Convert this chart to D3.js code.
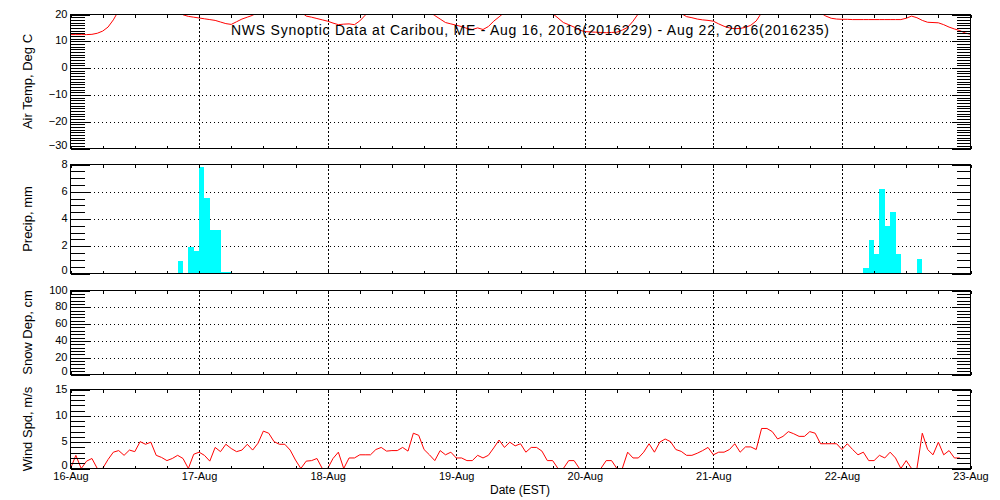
<!DOCTYPE html>
<html>
<head>
<meta charset="utf-8">
<script src="https://cdnjs.cloudflare.com/ajax/libs/d3/7.8.5/d3.min.js"></script>
<style>
body { margin: 0; background: #fff; }
text { font-family: "Liberation Sans", Arial, sans-serif; fill: #000; }
</style>
</head>
<body>
<div id="main"></div>
<script>
var width = 1000;
var height = 500;

// day tick labels, 16-Aug 00 EST .. 23-Aug 00 EST
var dayLabels = ['16-Aug', '17-Aug', '18-Aug', '19-Aug', '20-Aug', '21-Aug', '22-Aug', '23-Aug'];

// hourly air temperature (deg C), hour 0 = 16-Aug 00 EST
var airTemp = [
    12.5, 12.5, 12.5, 12.5, 12.6, 13.0, 13.8, 15.3, 18.0, 21.5, 23.5, 25.0,
    26.0, 27.0, 27.5, 27.5, 27.0, 26.0, 24.5, 23.0, 21.5, 19.9, 19.3, 19.0,
    18.7, 18.4, 18.1, 17.8, 17.2, 16.6, 16.3, 17.3, 18.3, 19.0, 19.7, 21.0,
    23.0, 25.0, 26.0, 27.0, 27.0, 26.0, 24.0, 21.0, 19.4, 19.0, 18.5, 18.0,
    17.5, 16.8, 16.2, 16.4, 16.5, 16.2, 17.6, 19.7, 22.0, 24.0, 25.5, 26.5,
    27.0, 27.0, 26.5, 25.5, 24.5, 23.0, 22.0, 21.0, 19.6, 18.3, 17.0, 16.5,
    16.0, 15.5, 14.8, 14.4, 15.0, 14.4, 15.5, 17.5, 19.1, 20.8, 23.0, 25.0,
    26.0, 27.0, 26.5, 25.0, 23.5, 22.0, 20.3, 18.7, 17.0, 16.2, 15.3, 14.2,
    13.6, 13.5, 13.4, 13.3, 13.2, 13.3, 13.4, 14.2, 15.2, 17.5, 20.3, 22.5,
    24.0, 25.0, 25.0, 24.0, 23.0, 21.5, 20.4, 19.2, 18.8, 18.3, 18.0, 17.8,
    17.5, 16.5, 15.6, 15.0, 14.7, 14.8, 15.2, 16.0, 17.6, 20.6, 23.0, 25.0,
    26.0, 27.0, 27.5, 27.0, 26.0, 25.0, 23.5, 22.0, 20.6, 19.4, 18.6, 18.3,
    18.2, 18.2, 18.1, 18.1, 18.1, 18.1, 18.1, 18.1, 18.1, 18.1, 18.1, 18.1,
    18.6, 19.4, 18.8, 17.8, 17.1, 17.0, 16.9, 16.2, 15.3, 14.6, 14.0, 13.1,
    12.6
];

// hourly precip (mm), only the hours with rain
var precipHours = [20, 22, 23, 24, 25, 26, 27, 28, 29, 148, 149, 150, 151, 152, 153, 154, 158];
var precipValues = [0.9, 1.95, 1.65, 7.85, 5.55, 3.2, 3.2, 0.12, 0.12, 0.4, 2.45, 1.4, 6.2, 3.45, 4.5, 1.4, 1.1];

// snow depth (cm): no reports
var snowDep = [];

// hourly wind speed (m/s)
var windSpd = [
    0.0, 2.5, 0.0, 1.4, 1.9, 0.0, 0.0, 1.7, 3.1, 3.4, 2.5, 3.5,
    3.2, 5.1, 4.6, 5.0, 2.5, 2.1, 1.5, 1.9, 2.5, 1.9, 0.0, 2.7,
    3.1, 2.5, 1.4, 4.0, 3.2, 4.6, 3.8, 3.2, 3.5, 4.6, 3.5, 4.8,
    7.1, 6.7, 5.1, 4.6, 4.6, 3.5, 1.6, 0.0, 1.4, 1.5, 1.9, 0.0,
    0.0, 1.9, 3.1, 0.0, 2.0, 2.0, 2.6, 2.6, 2.6, 3.6, 4.0, 3.3,
    3.4, 3.4, 4.0, 3.3, 6.7, 6.3, 3.6, 2.6, 1.5, 3.4, 2.6, 3.1,
    2.0, 2.0, 1.5, 1.5, 2.5, 2.0, 2.5, 3.9, 5.4, 4.0, 5.0, 4.3,
    4.7, 3.1, 4.0, 4.0, 3.3, 1.5, 1.5, 0.0, 0.0, 1.5, 1.5, 0.0,
    0.0, 0.0, 0.0, 0.0, 1.5, 1.5, 0.0, 0.0, 3.1, 2.0, 2.0, 3.1,
    4.7, 3.1, 5.0, 5.6, 5.1, 3.6, 3.25, 2.5, 2.5, 2.9, 3.4, 4.0,
    2.6, 3.1, 3.1, 3.6, 4.7, 3.1, 4.1, 4.1, 3.6, 7.6, 7.6, 7.0,
    5.6, 6.1, 7.0, 6.6, 6.1, 6.1, 7.0, 6.7, 4.7, 4.7, 4.7, 4.7,
    3.6, 4.7, 3.6, 2.6, 3.1, 1.5, 1.5, 2.5, 2.0, 3.1, 2.0, 0.0,
    1.5, 0.0, 0.0, 6.7, 3.6, 2.6, 5.0, 2.6, 3.4, 2.0, 2.0
];

var panels = [
    {id: 'temp', label: 'Air Temp, Deg C', top: 14.5, bottom: 148.5, domain: [-30, 20], major: 10, minor: 1},
    {id: 'precip', label: 'Precip, mm', top: 164.5, bottom: 273.5, domain: [0, 8], major: 2, minor: 0.5},
    {id: 'snow', label: 'Snow Dep, cm', top: 290.5, bottom: 374.5, domain: [0, 100], major: 20, minor: 4},
    {id: 'wind', label: 'Wind Spd, m/s', top: 389.5, bottom: 468.5, domain: [0, 15], major: 5, minor: 1}
];

var plotLeft = 70.5;
var plotRight = 970.5;

var svg = d3.select('#main').append('svg')
    .attr('width', width)
    .attr('height', height)
    .style('display', 'block');

var xScale = d3.scaleLinear().domain([0, 168]).range([plotLeft, plotRight]);
var dayHours = d3.range(0, 169, 24);
var sixHours = d3.range(0, 169, 6);

function stepValues(domain, step) {
    var n = Math.round((domain[1] - domain[0]) / step);
    return d3.range(n + 1).map(function(i) { return domain[0] + i * step; });
}

function cleanAxis(g) {
    g.select('.domain').remove();
    g.selectAll('line').attr('stroke', '#000').attr('shape-rendering', 'crispEdges');
    g.attr('font-family', null).attr('font-size', null);
}

panels.forEach(function(p) {
    var yScale = d3.scaleLinear().domain(p.domain).range([p.bottom, p.top]);
    var majors = stepValues(p.domain, p.major);
    var minors = stepValues(p.domain, p.minor);
    var chart = svg.append('g').attr('class', 'chart').attr('id', p.id);

    chart.append('clipPath')
        .attr('id', 'clip-' + p.id)
        .append('rect')
        .attr('x', plotLeft)
        .attr('y', p.top)
        .attr('width', plotRight - plotLeft)
        .attr('height', p.bottom - p.top);

    // dotted grid
    chart.selectAll('.hgrid')
        .data(majors.slice(1, -1))
        .enter().append('line')
        .attr('x1', plotLeft + 19)
        .attr('x2', plotRight - 19)
        .attr('y1', function(d) { return Math.round(yScale(d)) + 0.5; })
        .attr('y2', function(d) { return Math.round(yScale(d)) + 0.5; })
        .attr('stroke', '#000')
        .attr('stroke-dasharray', '1,3')
        .attr('shape-rendering', 'crispEdges');

    chart.selectAll('.vgrid')
        .data(dayHours.slice(1, -1))
        .enter().append('line')
        .attr('x1', function(d) { return Math.round(xScale(d)) + 0.5; })
        .attr('x2', function(d) { return Math.round(xScale(d)) + 0.5; })
        .attr('y1', p.top)
        .attr('y2', p.bottom)
        .attr('stroke', '#000')
        .attr('stroke-dasharray', '2,2')
        .attr('shape-rendering', 'crispEdges');

    // data
    var plot = chart.append('g').attr('clip-path', 'url(#clip-' + p.id + ')');
    if (p.id === 'temp') {
        plot.append('path')
            .datum(airTemp)
            .attr('fill', 'none')
            .attr('stroke', '#ff0000')
            .attr('stroke-width', 1)
            .attr('d', d3.line()
                .x(function(d, i) { return xScale(i); })
                .y(function(d) { return yScale(d); }));
    }
    if (p.id === 'precip') {
        plot.selectAll('.bar')
            .data(precipHours)
            .enter().append('rect')
            .attr('class', 'bar')
            .attr('x', function(d) { return xScale(d); })
            .attr('width', function(d) { return xScale(d + 1) - xScale(d); })
            .attr('y', function(d, i) { return yScale(precipValues[i]); })
            .attr('height', function(d, i) { return yScale(0) - yScale(precipValues[i]); })
            .attr('fill', '#00ffff')
            .attr('shape-rendering', 'crispEdges');
    }
    if (p.id === 'snow' && snowDep.length) {
        plot.append('path')
            .datum(snowDep)
            .attr('fill', 'none')
            .attr('stroke', '#ff0000')
            .attr('d', d3.line()
                .x(function(d, i) { return xScale(i); })
                .y(function(d) { return yScale(d); }));
    }
    if (p.id === 'wind') {
        plot.append('path')
            .datum(windSpd)
            .attr('fill', 'none')
            .attr('stroke', '#ff0000')
            .attr('stroke-width', 1)
            .attr('d', d3.line()
                .x(function(d, i) { return xScale(i); })
                .y(function(d) { return yScale(d); }));
    }

    // y ticks, left and right, minor then major
    chart.append('g')
        .attr('transform', `translate(${plotLeft}, 0)`)
        .call(d3.axisRight(yScale).tickValues(minors).tickSize(14).tickFormat(''))
        .call(cleanAxis);
    chart.append('g')
        .attr('transform', `translate(${plotLeft}, 0)`)
        .call(d3.axisRight(yScale).tickValues(majors).tickSize(19).tickFormat(''))
        .call(cleanAxis);
    chart.append('g')
        .attr('transform', `translate(${plotRight}, 0)`)
        .call(d3.axisLeft(yScale).tickValues(minors).tickSize(14).tickFormat(''))
        .call(cleanAxis);
    chart.append('g')
        .attr('transform', `translate(${plotRight}, 0)`)
        .call(d3.axisLeft(yScale).tickValues(majors).tickSize(19).tickFormat(''))
        .call(cleanAxis);

    // y labels, the lowest one sits a little above its tick
    chart.append('g')
        .attr('transform', `translate(${plotLeft}, 0)`)
        .call(d3.axisLeft(yScale).tickValues(majors).tickSize(0).tickPadding(3).tickFormat(d3.format('d')))
        .call(cleanAxis)
        .selectAll('text')
        .style('font-size', '11px')
        .attr('y', function(d, i) { return i === 0 ? -4 : -1; });

    // x ticks top and bottom
    chart.append('g')
        .attr('transform', `translate(0, ${p.bottom})`)
        .call(d3.axisBottom(xScale).tickValues(sixHours).tickSize(-3).tickFormat(''))
        .call(cleanAxis);
    chart.append('g')
        .attr('transform', `translate(0, ${p.top})`)
        .call(d3.axisTop(xScale).tickValues(sixHours).tickSize(-3).tickFormat(''))
        .call(cleanAxis);

    // frame
    chart.append('rect')
        .attr('x', plotLeft)
        .attr('y', p.top)
        .attr('width', plotRight - plotLeft)
        .attr('height', p.bottom - p.top)
        .attr('fill', 'none')
        .attr('stroke', '#000')
        .attr('shape-rendering', 'crispEdges');

    // axis title
    chart.append('text')
        .text(p.label)
        .attr('text-anchor', 'middle')
        .style('font-size', '13px')
        .attr('transform', `translate(32, ${(p.top + p.bottom) / 2}) rotate(-90)`);

    if (p.id === 'wind') {
        chart.append('g')
            .attr('transform', `translate(0, ${p.bottom})`)
            .call(d3.axisBottom(xScale).tickValues(dayHours).tickSize(0).tickPadding(4)
                .tickFormat(function(d, i) { return dayLabels[i]; }))
            .call(cleanAxis)
            .selectAll('text')
            .style('font-size', '11px');
    }
});

svg.append('text')
    .text('NWS Synoptic Data at Caribou, ME - Aug 16, 2016(2016229) - Aug 22, 2016(2016235)')
    .attr('x', 530)
    .attr('y', 35)
    .attr('text-anchor', 'middle')
    .attr('textLength', 598)
    .attr('lengthAdjust', 'spacing')
    .style('font-size', '14px');

svg.append('text')
    .text('Date (EST)')
    .attr('x', 520)
    .attr('y', 494)
    .attr('text-anchor', 'middle')
    .style('font-size', '12px');
</script>
</body>
</html>
